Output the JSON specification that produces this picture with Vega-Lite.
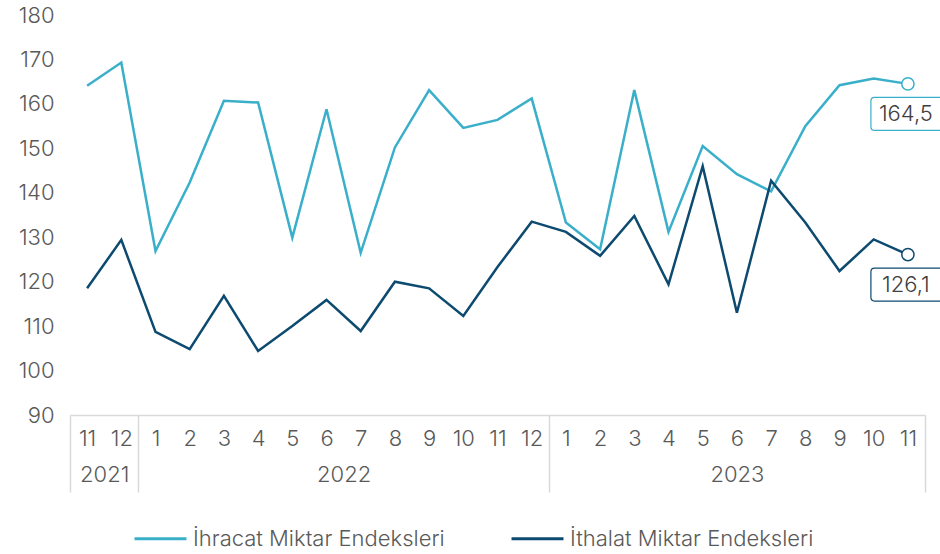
{
  "$schema": "https://vega.github.io/schema/vega-lite/v6.json",
  "autosize": {"type": "none"},
  "width": 855,
  "height": 400,
  "padding": {"left": 70, "top": 15, "right": 15, "bottom": 139},
  "config": {
    "locale": {"number": {"decimal": ",", "thousands": ".", "grouping": [3], "currency": ["", " TL"]}},
    "view": {"stroke": null},
    "font": "Inter",
    "axis": {"labelFont": "Inter", "labelFontWeight": 300, "labelFontSize": 22, "labelColor": "#595959", "grid": false},
    "legend": {"labelFont": "Inter", "labelFontWeight": 300, "labelFontSize": 22, "labelColor": "#595959", "labelLimit": 400}
  },
  "data": {
    "values": [
      {"i": 0, "year": 2021, "month": 11, "series": "İhracat Miktar Endeksleri", "value": 164.1},
      {"i": 1, "year": 2021, "month": 12, "series": "İhracat Miktar Endeksleri", "value": 169.3},
      {"i": 2, "year": 2022, "month": 1, "series": "İhracat Miktar Endeksleri", "value": 126.9},
      {"i": 3, "year": 2022, "month": 2, "series": "İhracat Miktar Endeksleri", "value": 142.3},
      {"i": 4, "year": 2022, "month": 3, "series": "İhracat Miktar Endeksleri", "value": 160.7},
      {"i": 5, "year": 2022, "month": 4, "series": "İhracat Miktar Endeksleri", "value": 160.3},
      {"i": 6, "year": 2022, "month": 5, "series": "İhracat Miktar Endeksleri", "value": 129.9},
      {"i": 7, "year": 2022, "month": 6, "series": "İhracat Miktar Endeksleri", "value": 158.8},
      {"i": 8, "year": 2022, "month": 7, "series": "İhracat Miktar Endeksleri", "value": 126.5},
      {"i": 9, "year": 2022, "month": 8, "series": "İhracat Miktar Endeksleri", "value": 150.2},
      {"i": 10, "year": 2022, "month": 9, "series": "İhracat Miktar Endeksleri", "value": 163.1},
      {"i": 11, "year": 2022, "month": 10, "series": "İhracat Miktar Endeksleri", "value": 154.6},
      {"i": 12, "year": 2022, "month": 11, "series": "İhracat Miktar Endeksleri", "value": 156.4},
      {"i": 13, "year": 2022, "month": 12, "series": "İhracat Miktar Endeksleri", "value": 161.2},
      {"i": 14, "year": 2023, "month": 1, "series": "İhracat Miktar Endeksleri", "value": 133.3},
      {"i": 15, "year": 2023, "month": 2, "series": "İhracat Miktar Endeksleri", "value": 127.3},
      {"i": 16, "year": 2023, "month": 3, "series": "İhracat Miktar Endeksleri", "value": 163.1},
      {"i": 17, "year": 2023, "month": 4, "series": "İhracat Miktar Endeksleri", "value": 131.2},
      {"i": 18, "year": 2023, "month": 5, "series": "İhracat Miktar Endeksleri", "value": 150.5},
      {"i": 19, "year": 2023, "month": 6, "series": "İhracat Miktar Endeksleri", "value": 144.2},
      {"i": 20, "year": 2023, "month": 7, "series": "İhracat Miktar Endeksleri", "value": 140.3},
      {"i": 21, "year": 2023, "month": 8, "series": "İhracat Miktar Endeksleri", "value": 155.0},
      {"i": 22, "year": 2023, "month": 9, "series": "İhracat Miktar Endeksleri", "value": 164.2},
      {"i": 23, "year": 2023, "month": 10, "series": "İhracat Miktar Endeksleri", "value": 165.7},
      {"i": 24, "year": 2023, "month": 11, "series": "İhracat Miktar Endeksleri", "value": 164.5},
      {"i": 0, "year": 2021, "month": 11, "series": "İthalat Miktar Endeksleri", "value": 118.5},
      {"i": 1, "year": 2021, "month": 12, "series": "İthalat Miktar Endeksleri", "value": 129.4},
      {"i": 2, "year": 2022, "month": 1, "series": "İthalat Miktar Endeksleri", "value": 108.7},
      {"i": 3, "year": 2022, "month": 2, "series": "İthalat Miktar Endeksleri", "value": 104.8},
      {"i": 4, "year": 2022, "month": 3, "series": "İthalat Miktar Endeksleri", "value": 116.8},
      {"i": 5, "year": 2022, "month": 4, "series": "İthalat Miktar Endeksleri", "value": 104.4},
      {"i": 6, "year": 2022, "month": 5, "series": "İthalat Miktar Endeksleri", "value": 110.0},
      {"i": 7, "year": 2022, "month": 6, "series": "İthalat Miktar Endeksleri", "value": 115.9},
      {"i": 8, "year": 2022, "month": 7, "series": "İthalat Miktar Endeksleri", "value": 108.9},
      {"i": 9, "year": 2022, "month": 8, "series": "İthalat Miktar Endeksleri", "value": 120.0},
      {"i": 10, "year": 2022, "month": 9, "series": "İthalat Miktar Endeksleri", "value": 118.5},
      {"i": 11, "year": 2022, "month": 10, "series": "İthalat Miktar Endeksleri", "value": 112.3},
      {"i": 12, "year": 2022, "month": 11, "series": "İthalat Miktar Endeksleri", "value": 123.3},
      {"i": 13, "year": 2022, "month": 12, "series": "İthalat Miktar Endeksleri", "value": 133.5},
      {"i": 14, "year": 2023, "month": 1, "series": "İthalat Miktar Endeksleri", "value": 131.2},
      {"i": 15, "year": 2023, "month": 2, "series": "İthalat Miktar Endeksleri", "value": 125.8},
      {"i": 16, "year": 2023, "month": 3, "series": "İthalat Miktar Endeksleri", "value": 134.8},
      {"i": 17, "year": 2023, "month": 4, "series": "İthalat Miktar Endeksleri", "value": 119.4},
      {"i": 18, "year": 2023, "month": 5, "series": "İthalat Miktar Endeksleri", "value": 146.0},
      {"i": 19, "year": 2023, "month": 6, "series": "İthalat Miktar Endeksleri", "value": 113.0},
      {"i": 20, "year": 2023, "month": 7, "series": "İthalat Miktar Endeksleri", "value": 142.7},
      {"i": 21, "year": 2023, "month": 8, "series": "İthalat Miktar Endeksleri", "value": 133.3},
      {"i": 22, "year": 2023, "month": 9, "series": "İthalat Miktar Endeksleri", "value": 122.4},
      {"i": 23, "year": 2023, "month": 10, "series": "İthalat Miktar Endeksleri", "value": 129.5},
      {"i": 24, "year": 2023, "month": 11, "series": "İthalat Miktar Endeksleri", "value": 126.1}
    ]
  },
  "resolve": {"axis": {"x": "independent"}},
  "layer": [
    {
      "mark": {"type": "line", "strokeWidth": 2.5},
      "encoding": {
        "x": {
          "field": "i", "type": "quantitative",
          "scale": {"domain": [-0.5, 24.5], "nice": false, "zero": false},
          "axis": {
            "orient": "bottom", "title": null,
            "values": [0,1,2,3,4,5,6,7,8,9,10,11,12,13,14,15,16,17,18,19,20,21,22,23,24],
            "labelExpr": "(datum.value + 10) % 12 + 1",
            "labelOverlap": false, "labelFlush": false, "labelBound": false,
            "ticks": false, "labelPadding": 13,
            "domain": true, "domainColor": "#d9d9d9", "domainWidth": 1.5
          }
        },
        "y": {
          "field": "value", "type": "quantitative",
          "scale": {"domain": [90, 180], "nice": false, "zero": false},
          "axis": {"title": null, "values": [90,100,110,120,130,140,150,160,170,180], "ticks": false, "domain": false, "labelPadding": 16}
        },
        "color": {
          "field": "series", "type": "nominal",
          "scale": {"domain": ["İhracat Miktar Endeksleri", "İthalat Miktar Endeksleri"], "range": ["#3aafca", "#0d4a70"]},
          "legend": {
            "title": null, "orient": "none", "direction": "horizontal",
            "legendX": 63, "legendY": 496,
            "symbolType": "stroke", "symbolSize": 2700, "symbolStrokeWidth": 3,
            "labelOffset": 5, "columnPadding": 60
          }
        }
      }
    },
    {
      "transform": [{"filter": "datum.i == 24"}],
      "mark": {"type": "point", "shape": "circle", "filled": true, "fill": "white", "size": 150, "strokeWidth": 1.5, "opacity": 1},
      "encoding": {
        "x": {
          "field": "i", "type": "quantitative",
          "axis": {
            "orient": "bottom", "title": null,
            "values": [-0.5, 1.5, 13.5, 24.5],
            "labels": false, "domain": false,
            "ticks": true, "tickSize": 77, "tickColor": "#d9d9d9", "tickWidth": 1.5
          }
        },
        "y": {"field": "value", "type": "quantitative"},
        "stroke": {"field": "series", "type": "nominal", "legend": null,
          "scale": {"domain": ["İhracat Miktar Endeksleri", "İthalat Miktar Endeksleri"], "range": ["#3aafca", "#0d4a70"]}}
      }
    },
    {
      "transform": [{"filter": "datum.i == 24"}],
      "mark": {
        "type": "point", "filled": true, "fill": "white", "opacity": 1, "strokeWidth": 1.2,
        "shape": "M-0.9,-0.446 L0.9,-0.446 Q1,-0.446 1,-0.346 L1,0.346 Q1,0.446 0.9,0.446 L-0.9,0.446 Q-1,0.446 -1,0.346 L-1,-0.346 Q-1,-0.446 -0.9,-0.446 Z",
        "size": 5476, "yOffset": 30
      },
      "encoding": {
        "x": {
          "field": "i", "type": "quantitative",
          "axis": {
            "orient": "bottom", "title": null,
            "values": [0.5, 7.5, 19],
            "labelExpr": "datum.value < 1 ? '2021' : datum.value < 10 ? '2022' : '2023'",
            "labelOverlap": false, "labelFlush": false, "labelBound": false,
            "ticks": false, "domain": false, "labelPadding": 49
          }
        },
        "y": {"field": "value", "type": "quantitative"},
        "stroke": {"field": "series", "type": "nominal", "legend": null}
      }
    },
    {
      "transform": [{"filter": "datum.i == 24"}],
      "mark": {"type": "text", "fontSize": 22, "font": "Inter", "fontWeight": 300, "color": "#404040", "dy": 30, "dx": -2, "baseline": "middle", "align": "center"},
      "encoding": {
        "x": {"field": "i", "type": "quantitative", "axis": null},
        "y": {"field": "value", "type": "quantitative"},
        "text": {"field": "value", "type": "quantitative", "format": ".1f"}
      }
    }
  ]
}
